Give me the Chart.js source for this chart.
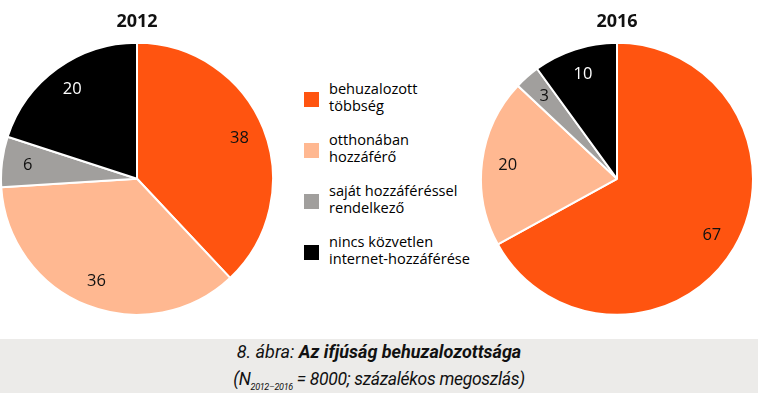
<!DOCTYPE html>
<html>
<head>
<meta charset="utf-8">
<script src="https://cdn.jsdelivr.net/npm/chart.js@4"></script>
<style>
  body { margin: 0; width: 758px; height: 393px; background: #fff; position: relative; overflow: hidden; font-family: "Open Sans", sans-serif; }
  .pie { position: absolute; top: 0; width: 274px; height: 316px; }
  #legend { position: absolute; left: 304px; top: 80px; }
  .item { position: relative; height: 51px; }
  .box { position: absolute; left: 0; width: 15px; height: 15px; top: 12px; }
  .txt { position: absolute; left: 25px; top: 0; font-size: 14.6px; line-height: 17px; color: #000; white-space: nowrap; }
  #caption { position: absolute; left: 0; top: 339px; width: 758px; height: 54px; background: #ecebe9; text-align: center;
    font-family: Roboto, sans-serif; font-style: italic; color: #111; }
  #caption .l1 { position: absolute; top: 2px; width: 100%; font-size: 18px; }
  #caption .l2 { position: absolute; top: 30px; width: 100%; font-size: 17.5px; letter-spacing: -0.3px; }
  sub { font-size: 9px; vertical-align: -5px; }
</style>
</head>
<body>
<div class="pie" style="left:0"><canvas id="pie2012"></canvas></div>
<div class="pie" style="left:480px"><canvas id="pie2016"></canvas></div>
<div id="legend"></div>
<div id="caption">
  <div class="l1">8. ábra: <b>Az ifjúság behuzalozottsága</b></div>
  <div class="l2">(N<sub>2012–2016</sub> = 8000; százalékos megoszlás)</div>
</div>
<script>
const categories = ["behuzalozott többség", "otthonában hozzáférő", "saját hozzáféréssel rendelkező", "nincs közvetlen internet-hozzáférése"];
const legendLines = [["behuzalozott", "többség"], ["otthonában", "hozzáférő"], ["saját hozzáféréssel", "rendelkező"], ["nincs közvetlen", "internet-hozzáférése"]];
const values2012 = [38, 36, 6, 20];
const values2016 = [67, 20, 3, 10];
const colors = ["#ff5410", "#ffb891", "#a19f9d", "#000000"];
const labelColors = ["#111", "#111", "#111", "#fff"];

// value labels inside slices
const sliceLabels = {
    id: "sliceLabels",
    afterDatasetsDraw(chart) {
        const ctx = chart.ctx;
        const meta = chart.getDatasetMeta(0);
        const data = chart.data.datasets[0].data;
        ctx.save();
        ctx.font = "16.5px 'Open Sans', sans-serif";
        ctx.textAlign = "center";
        ctx.textBaseline = "middle";
        meta.data.forEach((arc, i) => {
            const mid = (arc.startAngle + arc.endAngle) / 2;
            const r = arc.outerRadius * 0.81;
            ctx.fillStyle = labelColors[i];
            ctx.fillText(data[i], arc.x + Math.cos(mid) * r, arc.y + Math.sin(mid) * r);
        });
        ctx.restore();
    }
};

function makePie(id, title, values) {
    return new Chart(document.getElementById(id), {
        type: "pie",
        data: {
            labels: categories,
            datasets: [{
                data: values,
                backgroundColor: colors,
                borderColor: "#fff",
                borderWidth: 2
            }]
        },
        options: {
            responsive: true,
            maintainAspectRatio: false,
            animation: false,
            plugins: {
                legend: { display: false },
                tooltip: { enabled: false },
                title: {
                    display: true,
                    text: title,
                    color: "#111",
                    font: { family: "'Open Sans', sans-serif", size: 18, weight: "bold" },
                    padding: { top: 11, bottom: 9 }
                }
            }
        },
        plugins: [sliceLabels]
    });
}

makePie("pie2012", "2012", values2012);
makePie("pie2016", "2016", values2016);

// legend
const legendEl = document.getElementById("legend");
categories.forEach((c, i) => {
    const item = document.createElement("div");
    item.className = "item";
    item.innerHTML = `<div class="box" style="background:${colors[i]}"></div><div class="txt">${legendLines[i].join("<br>")}</div>`;
    legendEl.appendChild(item);
});
</script>
</body>
</html>
